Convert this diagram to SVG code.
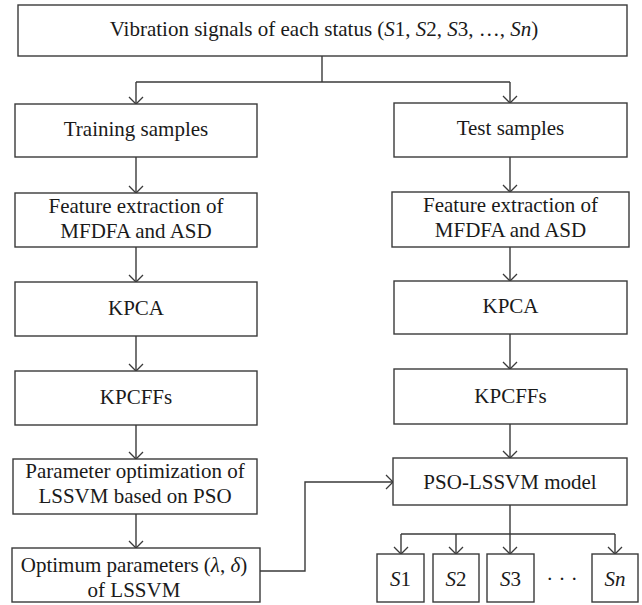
<svg xmlns="http://www.w3.org/2000/svg" width="642" height="605" viewBox="0 0 642 605">
<defs>
<style>
rect{fill:#fff;stroke:#3a3a3a;stroke-width:1.4}
text{font-family:'Liberation Serif','Times New Roman',serif;font-size:21px;fill:#1a1a1a;text-anchor:middle}
.i{font-style:italic}
#connectors path{fill:none;stroke:#3a3a3a;stroke-width:1.4}
</style>
<marker id="arr" viewBox="-8 -8 16 16" refX="0" refY="0" markerWidth="16" markerHeight="16" markerUnits="userSpaceOnUse" orient="auto">
<path d="M-7,-7 L0,0 L-7,7" fill="none" stroke="#3a3a3a" stroke-width="1.3"/>
</marker>
</defs>
<rect x="0" y="0" width="642" height="605" style="fill:#fff;stroke:none"/>
<g id="connectors">
<path d="M322,56 V82"/>
<path d="M136,82 H510"/>
<path d="M136,82 V104" marker-end="url(#arr)"/>
<path d="M510,82 V103" marker-end="url(#arr)"/>
<path d="M136,157 V193" marker-end="url(#arr)"/>
<path d="M136,247 V282" marker-end="url(#arr)"/>
<path d="M136,336 V371" marker-end="url(#arr)"/>
<path d="M136,425 V459" marker-end="url(#arr)"/>
<path d="M136,514 V548" marker-end="url(#arr)"/>
<path d="M510,157 V192" marker-end="url(#arr)"/>
<path d="M510,247 V281" marker-end="url(#arr)"/>
<path d="M510,334 V369" marker-end="url(#arr)"/>
<path d="M510,424 V458" marker-end="url(#arr)"/>
<path d="M260,571 H305 V482 H393" marker-end="url(#arr)"/>
<path d="M510,505 V534"/>
<path d="M401,534 H615"/>
<path d="M401,534 V554" marker-end="url(#arr)"/>
<path d="M456,534 V554" marker-end="url(#arr)"/>
<path d="M510,534 V554" marker-end="url(#arr)"/>
<path d="M615,534 V554" marker-end="url(#arr)"/>
</g>
<g font-family="'Liberation Serif', 'Times New Roman', serif">
<g id="n-vibration">
<rect x="18" y="5" width="609" height="51"/>
<text x="324" y="36">Vibration signals of each status (<tspan class="i">S</tspan>1, <tspan class="i">S</tspan>2, <tspan class="i">S</tspan>3, …, <tspan class="i">Sn</tspan>)</text>
</g>
<g id="n-training">
<rect x="15" y="104" width="242" height="53"/>
<text x="136" y="136">Training samples</text>
</g>
<g id="n-test">
<rect x="394" y="103" width="233" height="54"/>
<text x="510.5" y="135">Test samples</text>
</g>
<g id="n-feature-l">
<rect x="15" y="193" width="242" height="54"/>
<text x="136" y="213">Feature extraction of</text>
<text x="136" y="238">MFDFA and ASD</text>
</g>
<g id="n-feature-r">
<rect x="392" y="192" width="237" height="55"/>
<text x="510.5" y="212">Feature extraction of</text>
<text x="510.5" y="237">MFDFA and ASD</text>
</g>
<g id="n-kpca-l">
<rect x="15" y="282" width="242" height="54"/>
<text x="136" y="315">KPCA</text>
</g>
<g id="n-kpca-r">
<rect x="394" y="281" width="233" height="53"/>
<text x="510.5" y="313">KPCA</text>
</g>
<g id="n-kpcffs-l">
<rect x="15" y="371" width="242" height="54"/>
<text x="136" y="404">KPCFFs</text>
</g>
<g id="n-kpcffs-r">
<rect x="394" y="369" width="233" height="55"/>
<text x="510.5" y="403">KPCFFs</text>
</g>
<g id="n-param">
<rect x="13" y="459" width="244" height="55"/>
<text x="135" y="478">Parameter optimization of</text>
<text x="135" y="503">LSSVM based on PSO</text>
</g>
<g id="n-optimum">
<rect x="12" y="548" width="248" height="54"/>
<text x="134" y="572">Optimum parameters (<tspan class="i">λ</tspan>, <tspan class="i">δ</tspan>)</text>
<text x="134" y="597">of LSSVM</text>
</g>
<g id="n-pso">
<rect x="393" y="458" width="234" height="47"/>
<text x="510" y="489">PSO-LSSVM model</text>
</g>
<g id="n-s1">
<rect x="377" y="554" width="47" height="48"/>
<text x="400.5" y="586"><tspan class="i">S</tspan>1</text>
</g>
<g id="n-s2">
<rect x="433" y="554" width="46" height="48"/>
<text x="456" y="586"><tspan class="i">S</tspan>2</text>
</g>
<g id="n-s3">
<rect x="487" y="554" width="47" height="48"/>
<text x="510.5" y="586"><tspan class="i">S</tspan>3</text>
</g>
<g id="n-dots">
<text x="562" y="586">· · ·</text>
</g>
<g id="n-sn">
<rect x="592" y="554" width="46" height="48"/>
<text x="615" y="586" class="i">Sn</text>
</g>
</g>
</svg>
